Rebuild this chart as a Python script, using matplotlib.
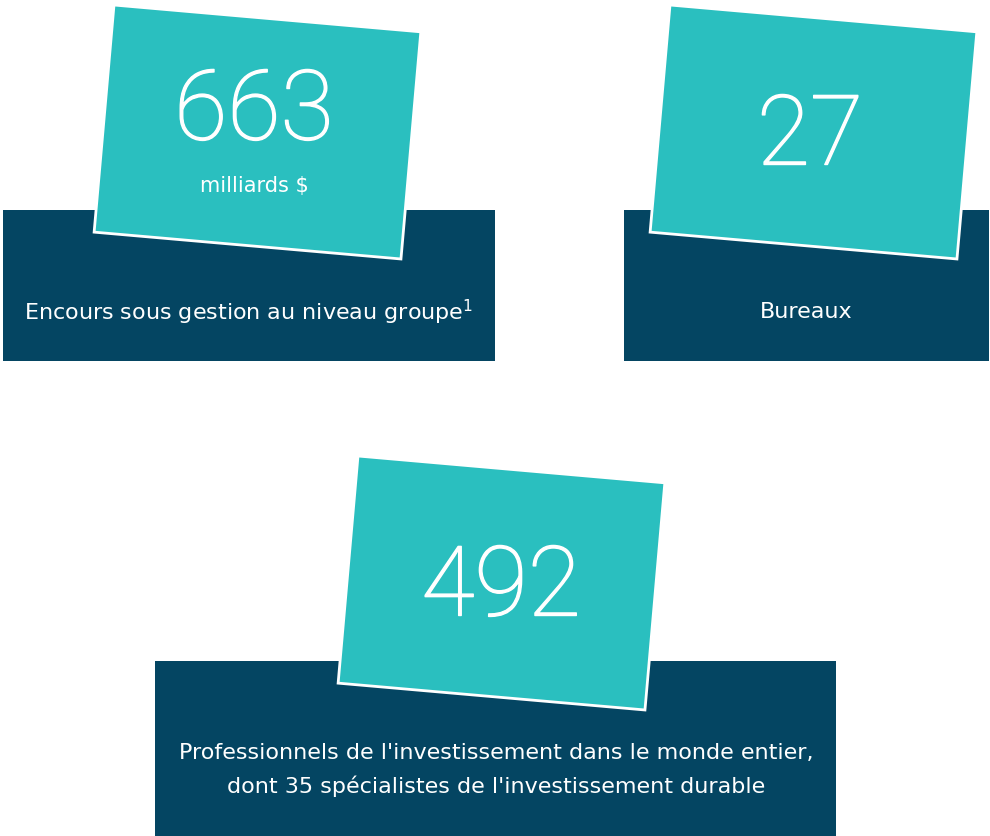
import matplotlib
matplotlib.use("Agg")
import matplotlib.pyplot as plt
from matplotlib.patches import Polygon, Rectangle
import matplotlib.patheffects as pe
import numpy as np

# Data
values = ["663", "27", "492"]
units = ["milliards $", "", ""]
labels = [
    "Encours sous gestion au niveau groupe$^{1}$",
    "Bureaux",
    "Professionnels de l'investissement dans le monde entier,\ndont 35 spécialistes de l'investissement durable",
]

TEAL = "#2abfbf"
NAVY = "#044562"

plt.rcParams['font.family'] = ['DejaVu Sans']

fig = plt.figure(figsize=(9.9, 8.36), dpi=100)
ax = fig.add_axes([0, 0, 1, 1])
ax.set_xlim(0, 990)
ax.set_ylim(836, 0)
ax.axis("off")

# layout: dark boxes (x0, y0, x1, y1), card top-left corner, number centre, label centre
boxes = [(3, 210, 495, 361), (624, 210, 989, 361), (155, 661, 836, 836)]
card_tl = [(114, 5), (670, 5), (358, 456)]
num_pos = [(254, 113), (810, 138), (501, 589)]
unit_pos = [(254, 186), None, None]
label_pos = [(249, 312), (806, 312), (496, 770)]

W, H = 308, 228
ang = np.deg2rad(5.0)
u = np.array([np.cos(ang), np.sin(ang)])   # along top edge (image coords, y down)
v = np.array([-np.sin(ang), np.cos(ang)])  # down the side

for i in range(3):
    x0, y0, x1, y1 = boxes[i]
    ax.add_patch(Rectangle((x0, y0), x1 - x0, y1 - y0, facecolor=NAVY, edgecolor="none", zorder=1))
    tl = np.array(card_tl[i], dtype=float)
    pts = [tl, tl + W * u, tl + W * u + H * v, tl + H * v]
    ax.add_patch(Polygon(pts, closed=True, facecolor=TEAL, edgecolor="white", linewidth=2, zorder=2, joinstyle="miter"))
    ax.text(*num_pos[i], values[i], color="white", fontsize=70, ha="center", va="center",
            family=["Roboto", "DejaVu Sans"], fontweight="light", zorder=3,
            path_effects=[pe.withStroke(linewidth=1.0, foreground="white")])
    if units[i]:
        ax.text(*unit_pos[i], units[i], color="white", fontsize=15, ha="center", va="center", zorder=3)
    ax.text(*label_pos[i], labels[i], color="white", fontsize=16, ha="center", va="center",
            linespacing=1.7, zorder=3)

fig.savefig("out.png", dpi=100, facecolor="white")
